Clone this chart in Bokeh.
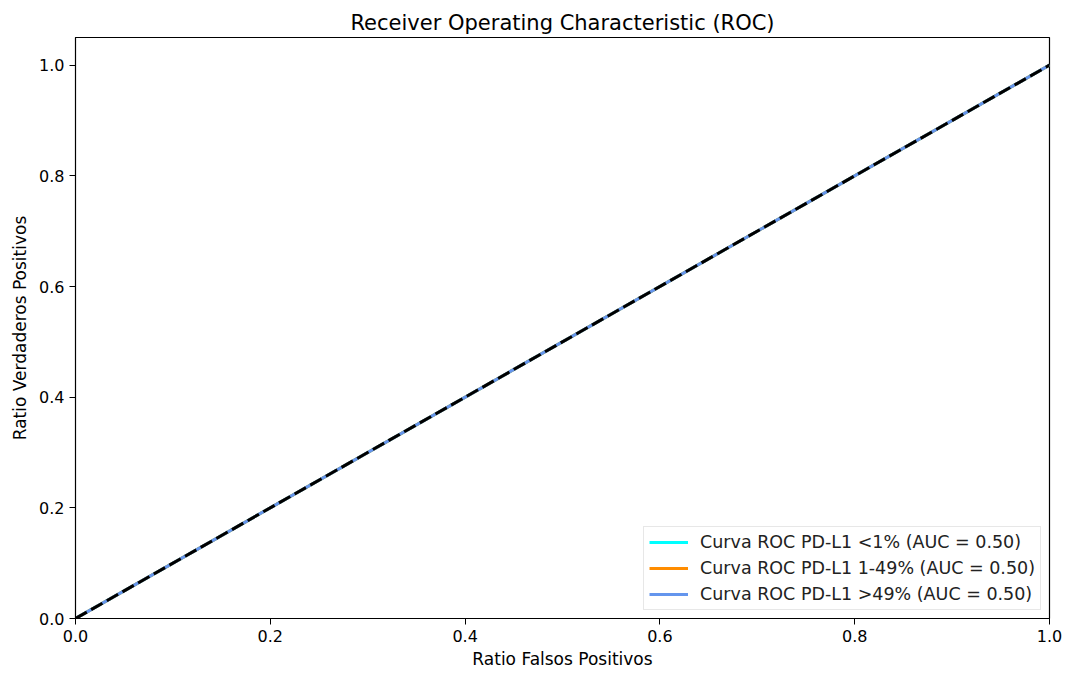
from bokeh.plotting import figure
from bokeh.embed import file_html
from bokeh.resources import INLINE
from bokeh.models import Range1d, FixedTicker, PrintfTickFormatter, Legend, LegendItem

# Data
fpr_lt1 = [0.0, 1.0]
tpr_lt1 = [0.0, 1.0]
fpr_1_49 = [0.0, 1.0]
tpr_1_49 = [0.0, 1.0]
fpr_gt49 = [0.0, 1.0]
tpr_gt49 = [0.0, 1.0]
auc_values = [0.50, 0.50, 0.50]
labels = ["Curva ROC PD-L1 <1%", "Curva ROC PD-L1 1-49%", "Curva ROC PD-L1 >49%"]
colors = ["#00ffff", "#ff8c00", "#6495ed"]
diag_x = [0.0, 1.0]
diag_y = [0.0, 1.0]
ticks = [0.0, 0.2, 0.4, 0.6, 0.8, 1.0]

FONT = "DejaVu Sans"

p = figure(width=1067, height=673, output_backend="svg", toolbar_location=None,
           x_range=Range1d(0, 1.0), y_range=Range1d(0, 1.05),
           min_border_left=75, min_border_right=18, min_border_top=37, min_border_bottom=55)

p.title.text = "Receiver Operating Characteristic (ROC)"
p.title.align = "center"
p.title.text_font = FONT
p.title.text_font_style = "normal"
p.title.text_font_size = "21px"
p.title.text_color = "#000000"
p.title.offset = 0
p.title.standoff = 6

p.xgrid.visible = False
p.ygrid.visible = False
p.outline_line_color = "#000000"
p.outline_line_width = 1.2
p.outline_line_alpha = 1.0

for ax in (p.xaxis[0], p.yaxis[0]):
    ax.ticker = FixedTicker(ticks=ticks)
    ax.formatter = PrintfTickFormatter(format="%.1f")
    ax.major_label_text_font = FONT
    ax.major_label_text_font_size = "16px"
    ax.major_label_text_color = "#000000"
    ax.axis_label_text_font = FONT
    ax.axis_label_text_font_size = "17px"
    ax.axis_label_text_font_style = "normal"
    ax.axis_label_text_color = "#000000"
    ax.minor_tick_line_color = None
    ax.major_tick_out = 6
    ax.major_tick_in = 0
    ax.major_tick_line_color = "#000000"
    ax.axis_line_color = "#000000"

p.xaxis.axis_label = "Ratio Falsos Positivos"
p.yaxis.axis_label = "Ratio Verdaderos Positivos"
p.xaxis.axis_label_standoff = 4
p.yaxis.axis_label_standoff = 6

series = [(fpr_lt1, tpr_lt1), (fpr_1_49, tpr_1_49), (fpr_gt49, tpr_gt49)]
items = []
for (fx, ty), lab, col, auc in zip(series, labels, colors, auc_values):
    r = p.line(fx, ty, line_color=col, line_width=3)
    items.append(LegendItem(label=f"{lab} (AUC = {auc:.2f})", renderers=[r]))

p.line(diag_x, diag_y, line_color="#000000", line_width=3, line_dash="13 5")

legend = Legend(items=items, location="bottom_right")
legend.label_text_font = FONT
legend.label_text_font_size = "17.5px"
legend.label_text_color = "#222222"
legend.border_line_color = "#d0d0d0"
legend.border_line_width = 1
legend.background_fill_alpha = 0.8
legend.glyph_width = 39
legend.glyph_height = 20
legend.label_height = 20
legend.label_standoff = 12
legend.spacing = 6
legend.padding = 5
legend.margin = 8
p.add_layout(legend)

open("out.html", "w").write(file_html(p, INLINE))
